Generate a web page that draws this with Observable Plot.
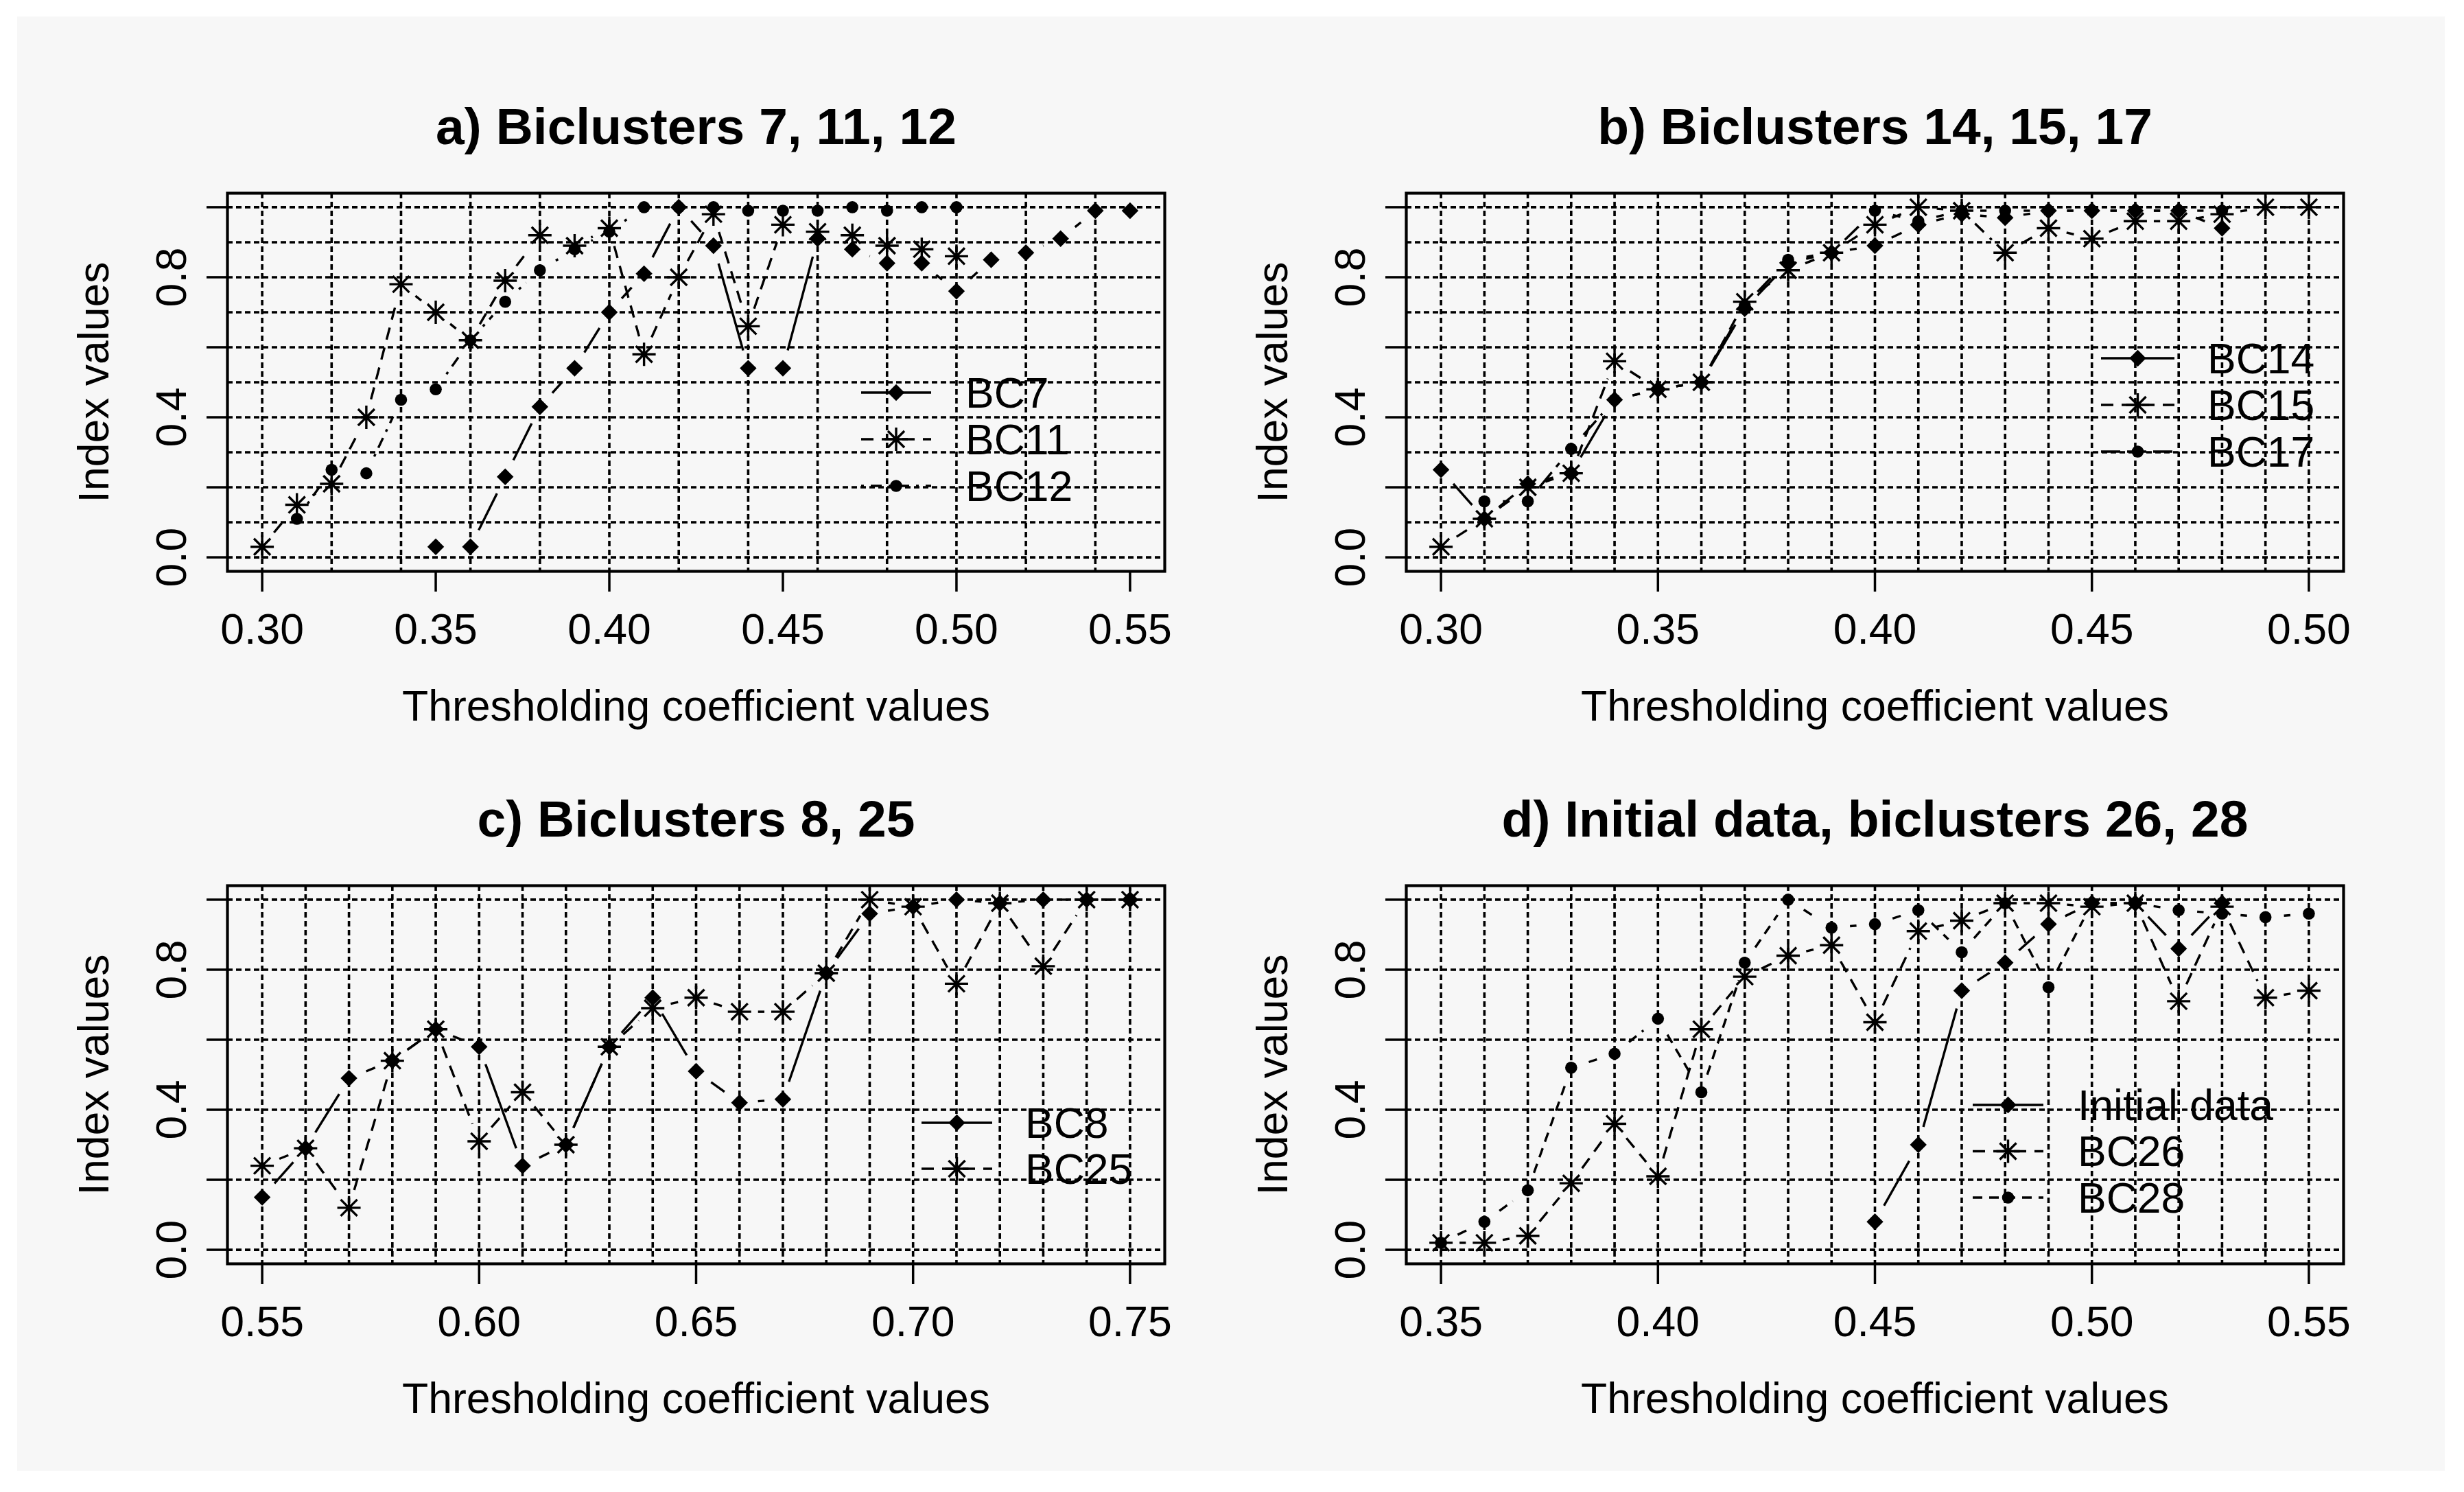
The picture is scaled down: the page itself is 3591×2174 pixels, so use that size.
<!DOCTYPE html>
<html>
<head>
<meta charset="utf-8">
<script src="https://cdn.jsdelivr.net/npm/d3@7"></script>
<script src="https://cdn.jsdelivr.net/npm/@observablehq/plot@0.6"></script>
<style>
  html, body { margin: 0; padding: 0; background: #ffffff; }
  #page { position: relative; width: 3591px; height: 2174px; overflow: hidden; background: #ffffff; }
  #bg { position: absolute; left: 25px; top: 24px; width: 3538px; height: 2119px; background: #f7f7f7; }
  #page svg { position: absolute; }
</style>
</head>
<body>
<div id="page"><div id="bg"></div></div>
<script>
// ---------------- DATA ----------------
// Panel a) Biclusters 7, 11, 12
const xA = [0.30,0.31,0.32,0.33,0.34,0.35,0.36,0.37,0.38,0.39,0.40,0.41,0.42,0.43,0.44,0.45,0.46,0.47,0.48,0.49,0.50,0.51,0.52,0.53,0.54,0.55];
const bc7  = [null,null,null,null,null,0.03,0.03,0.23,0.43,0.54,0.70,0.81,1.00,0.89,0.54,0.54,0.91,0.88,0.84,0.84,0.76,0.85,0.87,0.91,0.99,0.99];
const bc11 = [0.03,0.15,0.21,0.40,0.78,0.70,0.62,0.79,0.92,0.89,0.94,0.58,0.80,0.98,0.66,0.95,0.93,0.92,0.89,0.88,0.86,null,null,null,null,null];
const bc12 = [null,0.11,0.25,0.24,0.45,0.48,0.62,0.73,0.82,0.88,0.93,1.00,1.00,1.00,0.99,0.99,0.99,1.00,0.99,1.00,1.00,null,null,null,null,null];

// Panel b) Biclusters 14, 15, 17
const xB = [0.30,0.31,0.32,0.33,0.34,0.35,0.36,0.37,0.38,0.39,0.40,0.41,0.42,0.43,0.44,0.45,0.46,0.47,0.48,0.49,0.50];
const bc14 = [0.25,0.11,0.21,0.24,0.45,0.48,0.50,0.71,0.84,0.87,0.89,0.95,0.98,0.97,0.99,0.99,0.99,0.99,0.94,null,null];
const bc15 = [0.03,0.11,0.20,0.24,0.56,0.48,0.50,0.73,0.82,0.87,0.95,1.00,0.99,0.87,0.94,0.91,0.96,0.96,0.98,1.00,1.00];
const bc17 = [null,0.16,0.16,0.31,0.45,0.48,0.50,0.72,0.85,0.87,0.99,0.96,0.99,0.99,0.99,0.99,0.99,0.99,0.99,null,null];

// Panel c) Biclusters 8, 25
const xC = [0.55,0.56,0.57,0.58,0.59,0.60,0.61,0.62,0.63,0.64,0.65,0.66,0.67,0.68,0.69,0.70,0.71,0.72,0.73,0.74,0.75];
const bc8  = [0.15,0.29,0.49,0.54,0.63,0.58,0.24,0.30,0.58,0.72,0.51,0.42,0.43,0.79,0.96,0.98,1.00,0.99,1.00,1.00,1.00];
const bc25 = [0.24,0.29,0.12,0.54,0.63,0.31,0.45,0.30,0.58,0.69,0.72,0.68,0.68,0.79,1.00,0.98,0.76,0.99,0.81,1.00,1.00];

// Panel d) Initial data, biclusters 26, 28
const xD = [0.35,0.36,0.37,0.38,0.39,0.40,0.41,0.42,0.43,0.44,0.45,0.46,0.47,0.48,0.49,0.50,0.51,0.52,0.53,0.54,0.55];
const initialData = [null,null,null,null,null,null,null,null,null,null,0.08,0.30,0.74,0.82,0.93,0.99,0.99,0.86,0.99,null,null];
const bc26 = [0.02,0.02,0.04,0.19,0.36,0.21,0.63,0.78,0.84,0.87,0.65,0.91,0.94,0.99,0.99,0.98,0.99,0.71,0.98,0.72,0.74];
const bc28 = [0.02,0.08,0.17,0.52,0.56,0.66,0.45,0.82,1.00,0.92,0.93,0.97,0.85,0.99,0.75,0.99,0.99,0.97,0.96,0.95,0.96];

// Tick values and grid positions
const xTicksA = [0.30,0.35,0.40,0.45,0.50,0.55];
const xTicksB = [0.30,0.35,0.40,0.45,0.50];
const xTicksC = [0.55,0.60,0.65,0.70,0.75];
const xTicksD = [0.35,0.40,0.45,0.50,0.55];
const yTickMarks = [0.0,0.2,0.4,0.6,0.8,1.0];
const yTickLabels = [0.0,0.4,0.8];
const gridXA = [0.30,0.32,0.34,0.36,0.38,0.40,0.42,0.44,0.46,0.48,0.50,0.52,0.54];
const gridXB = xB;
const gridXC = xC;
const gridXD = xD;
const gridYFine = [0.0,0.1,0.2,0.3,0.4,0.5,0.6,0.7,0.8,0.9,1.0];
const gridYCoarse = [0.0,0.2,0.4,0.6,0.8,1.0];

const titles = ["a) Biclusters 7, 11, 12", "b) Biclusters 14, 15, 17", "c) Biclusters 8, 25", "d) Initial data, biclusters 26, 28"];
const xLabel = "Thresholding coefficient values";
const yLabel = "Index values";

// ---------------- STYLE / LAYOUT ----------------
const FONT = "'Liberation Sans', Arial, Helvetica, sans-serif";
const W = 1795, H = 1087, ML = 331, MR = 98, MT = 281, MB = 255;
const FW = W - ML - MR, FH = H - MT - MB;
const YDOM = [-0.04, 1.04];
const GAP = 27;
const LW = 3.4;
const DASH = {solid: null, dashed: "18,12", dotdash: "4,10,16,10", longdash: "28,10", dashed2: "14,10"};

const asteriskSym = {
  draw(ctx, size) {
    const r = Math.sqrt(size / Math.PI);
    const d = r / Math.SQRT2;
    ctx.moveTo(-r, 0); ctx.lineTo(r, 0);
    ctx.moveTo(0, -r); ctx.lineTo(0, r);
    ctx.moveTo(-d, -d); ctx.lineTo(d, d);
    ctx.moveTo(-d, d); ctx.lineTo(d, -d);
  }
};
const R = {diamond: 11, dot: 8.8, asterisk: 17};

function legendMark(items, geom) {
  return function () {
    const g = d3.create("svg:g");
    items.forEach((it, k) => {
      const y = geom.y0 + k * geom.step;
      g.append("line")
        .attr("x1", geom.x1).attr("x2", geom.x2).attr("y1", y).attr("y2", y)
        .attr("stroke", "black").attr("stroke-width", LW)
        .attr("stroke-dasharray", DASH[it.dash]);
      const xm = (geom.x1 + geom.x2) / 2;
      if (it.pch === "diamond") {
        g.append("path").attr("transform", `translate(${xm},${y})`)
          .attr("d", d3.symbol(d3.symbolDiamond2, Math.PI * R.diamond * R.diamond)()).attr("fill", "black");
      } else if (it.pch === "dot") {
        g.append("circle").attr("cx", xm).attr("cy", y).attr("r", R.dot).attr("fill", "black");
      } else {
        g.append("path").attr("transform", `translate(${xm},${y})`)
          .attr("d", d3.symbol(asteriskSym, Math.PI * R.asterisk * R.asterisk)())
          .attr("fill", "none").attr("stroke", "black").attr("stroke-width", LW);
      }
      g.append("text").attr("x", geom.xt).attr("y", y).attr("dy", "0.35em")
        .attr("text-anchor", "start")
        .attr("font-size", 62.5).attr("font-family", FONT).attr("fill", "black")
        .text(it.name);
    });
    return g.node();
  };
}

function buildPanel(cfg) {
  const {xs, series, domain, gridX, gridY, xTicks, left, top, title, legend} = cfg;
  const px = x => (x - domain[0]) / (domain[1] - domain[0]) * FW;
  const py = y => (y - YDOM[0]) / (YDOM[1] - YDOM[0]) * FH;
  const pts = [];
  const segMarks = [];
  series.forEach(s => {
    const segs = [];
    let prev = null;
    xs.forEach((x, i) => {
      const v = s.values[i];
      if (v == null) { prev = null; return; }
      pts.push({x, y: v, pch: s.pch, name: s.name});
      if (prev) {
        const L = Math.hypot(px(x) - px(prev.x), py(v) - py(prev.y));
        if (L > 2 * GAP) segs.push({x1: prev.x, y1: prev.y, x2: x, y2: v});
      }
      prev = {x, y: v};
    });
    segMarks.push(Plot.arrow(segs, {
      x1: "x1", y1: "y1", x2: "x2", y2: "y2",
      headLength: 0, insetStart: GAP, insetEnd: GAP,
      stroke: "black", strokeWidth: LW, strokeLinecap: "butt",
      strokeDasharray: DASH[s.dash]
    }));
  });

  const plot = Plot.plot({
    width: W, height: H,
    marginLeft: ML, marginRight: MR, marginTop: MT, marginBottom: MB,
    style: {background: "transparent", fontFamily: FONT, fontSize: "62.5px", color: "black", overflow: "visible"},
    x: {type: "linear", domain},
    y: {type: "linear", domain: YDOM},
    marks: [
      Plot.ruleX(gridX, {stroke: "black", strokeWidth: 3.6, strokeDasharray: "8,5"}),
      Plot.ruleY(gridY, {stroke: "black", strokeWidth: 3.6, strokeDasharray: "8,5"}),
      Plot.frame({stroke: "black", strokeWidth: 4.2}),
      ...segMarks,
      Plot.dot(pts.filter(d => d.pch === "diamond"), {x: "x", y: "y", symbol: "diamond2", r: R.diamond, fill: "black", stroke: "none"}),
      Plot.dot(pts.filter(d => d.pch === "dot"), {x: "x", y: "y", symbol: "circle", r: R.dot, fill: "black", stroke: "none"}),
      Plot.dot(pts.filter(d => d.pch === "asterisk"), {x: "x", y: "y", symbol: asteriskSym, r: R.asterisk, fill: "none", stroke: "black", strokeWidth: LW}),
      Plot.axisX(xTicks, {anchor: "bottom", tickFormat: d3.format(".2f"), tickSize: 30, tickPadding: 31.6, strokeWidth: 3.5, fontSize: 62.5, label: null}),
      Plot.axisY(yTickMarks, {anchor: "left", tickSize: 30, tickFormat: () => "", strokeWidth: 3.5, label: null}),
      Plot.text(yTickLabels, {y: d => d, text: d => d3.format(".1f")(d), frameAnchor: "left", dx: -81, rotate: -90, fontSize: 62.5, lineAnchor: "middle", textAnchor: "middle", fill: "black"}),
      Plot.text([title], {text: d => d, frameAnchor: "top", dy: -96, fontSize: 75, fontWeight: "bold", lineAnchor: "middle", textAnchor: "middle", fill: "black"}),
      Plot.text([xLabel], {text: d => d, frameAnchor: "bottom", dy: 197, fontSize: 62.5, lineAnchor: "middle", textAnchor: "middle", fill: "black"}),
      Plot.text([yLabel], {text: d => d, frameAnchor: "left", dx: -194, rotate: -90, fontSize: 62.5, lineAnchor: "middle", textAnchor: "middle", fill: "black"}),
      legendMark(series, legend)
    ]
  });
  plot.style.left = left + "px";
  plot.style.top = top + "px";
  document.getElementById("page").appendChild(plot);
}

buildPanel({
  xs: xA, domain: [0.29, 0.56], gridX: gridXA, gridY: gridYFine, xTicks: xTicksA,
  left: 0, top: 0, title: titles[0],
  series: [
    {name: "BC7", values: bc7, pch: "diamond", dash: "solid"},
    {name: "BC11", values: bc11, pch: "asterisk", dash: "dashed"},
    {name: "BC12", values: bc12, pch: "dot", dash: "dotdash"}
  ],
  legend: {x1: 1255, x2: 1357, xt: 1407, y0: 572, step: 68}
});

buildPanel({
  xs: xB, domain: [0.292, 0.508], gridX: gridXB, gridY: gridYFine, xTicks: xTicksB,
  left: 1718, top: 0, title: titles[1],
  series: [
    {name: "BC14", values: bc14, pch: "diamond", dash: "solid"},
    {name: "BC15", values: bc15, pch: "asterisk", dash: "dashed"},
    {name: "BC17", values: bc17, pch: "dot", dash: "longdash"}
  ],
  legend: {x1: 1344, x2: 1451, xt: 1499, y0: 522, step: 68}
});

buildPanel({
  xs: xC, domain: [0.542, 0.758], gridX: gridXC, gridY: gridYCoarse, xTicks: xTicksC,
  left: 0, top: 1009, title: titles[2],
  series: [
    {name: "BC8", values: bc8, pch: "diamond", dash: "solid"},
    {name: "BC25", values: bc25, pch: "asterisk", dash: "dashed"}
  ],
  legend: {x1: 1343, x2: 1446, xt: 1494, y0: 627, step: 67}
});

buildPanel({
  xs: xD, domain: [0.342, 0.558], gridX: gridXD, gridY: gridYCoarse, xTicks: xTicksD,
  left: 1718, top: 1009, title: titles[3],
  series: [
    {name: "Initial data", values: initialData, pch: "diamond", dash: "solid"},
    {name: "BC26", values: bc26, pch: "asterisk", dash: "dashed"},
    {name: "BC28", values: bc28, pch: "dot", dash: "dashed2"}
  ],
  legend: {x1: 1157, x2: 1260, xt: 1310, y0: 601, step: 67.5}
});
</script>
</body>
</html>
